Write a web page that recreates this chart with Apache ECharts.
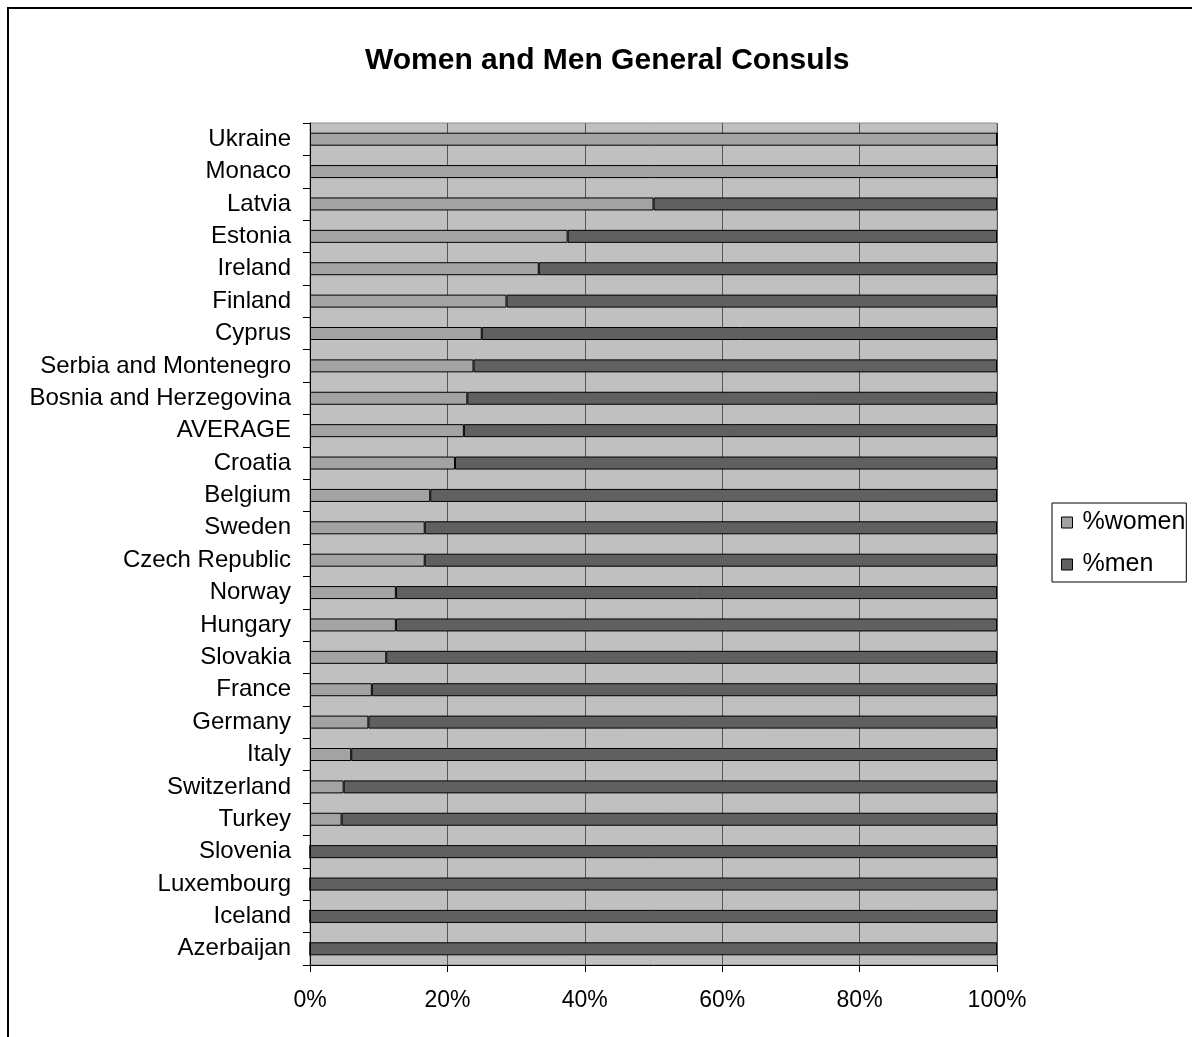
<!DOCTYPE html>
<html>
<head>
<meta charset="utf-8">
<script src="https://cdn.jsdelivr.net/npm/echarts@6/dist/echarts.min.js"></script>
<style>
  html, body { margin: 0; padding: 0; background: #fff; overflow: hidden; }
  #chart { position: absolute; left: 0; top: 0; width: 1192px; height: 1037px; }
  #frame { position: absolute; left: 7px; top: 7px; width: 1300px; height: 1200px;
           border: 2px solid #000; box-sizing: border-box; pointer-events: none; }
</style>
</head>
<body>
<div id="chart"></div>
<div id="frame"></div>
<script>
// Countries listed from top row to bottom row
const countries = [
  'Ukraine', 'Monaco', 'Latvia', 'Estonia', 'Ireland', 'Finland', 'Cyprus',
  'Serbia and Montenegro', 'Bosnia and Herzegovina', 'AVERAGE', 'Croatia',
  'Belgium', 'Sweden', 'Czech Republic', 'Norway', 'Hungary', 'Slovakia',
  'France', 'Germany', 'Italy', 'Switzerland', 'Turkey', 'Slovenia',
  'Luxembourg', 'Iceland', 'Azerbaijan'
];
// Share of women general consuls (%)
const women = [
  100, 100, 50, 37.5, 33.3, 28.6, 25,
  23.8, 22.9, 22.4, 21.1,
  17.5, 16.7, 16.7, 12.5, 12.5, 11.1,
  9.0, 8.5, 6.0, 4.9, 4.6, 0,
  0, 0, 0
];
// Share of men general consuls (%)
const men = [
  0, 0, 50, 62.5, 66.7, 71.4, 75,
  76.2, 77.1, 77.6, 78.9,
  82.5, 83.3, 83.3, 87.5, 87.5, 88.9,
  91.0, 91.5, 94.0, 95.1, 95.4, 100,
  100, 100, 100
];
const xTicks = [0, 20, 40, 60, 80, 100];

const FONT = '"Liberation Sans", Arial, sans-serif';
const chart = echarts.init(document.getElementById('chart'), null, { renderer: 'canvas' });

chart.setOption({
  backgroundColor: '#ffffff',
  animation: false,
  textStyle: { fontFamily: FONT, color: '#000' },
  title: {
    text: 'Women and Men General Consuls',
    left: 360,
    top: 41,
    textStyle: { fontFamily: FONT, fontSize: 30, fontWeight: 'bold', color: '#000' }
  },
  legend: {
    orient: 'vertical',
    left: 1052,
    top: 503,
    padding: [7, 1, 5, 9],
    itemGap: 17,
    itemWidth: 11,
    itemHeight: 11,
    icon: 'rect',
    borderColor: '#000',
    borderWidth: 1,
    backgroundColor: '#fff',
    itemStyle: { borderColor: '#000', borderWidth: 1 },
    textStyle: { fontFamily: FONT, fontSize: 25, color: '#000', padding: [0, 0, 0, 5] },
    data: ['%women', '%men']
  },
  grid: {
    left: 310,
    right: 195,
    top: 123,
    bottom: 72,
    show: true,
    backgroundColor: '#c0c0c0',
    borderColor: '#8c8c8c',
    borderWidth: 1,
    containLabel: false
  },
  xAxis: {
    type: 'value',
    min: xTicks[0],
    max: xTicks[xTicks.length - 1],
    interval: 20,
    axisLine: { show: true, lineStyle: { color: '#000', width: 1 } },
    axisTick: { show: true, length: 7, lineStyle: { color: '#000' } },
    axisLabel: {
      margin: 24,
      fontFamily: FONT,
      fontSize: 23,
      color: '#000',
      formatter: v => v + '%'
    },
    splitLine: { show: true, lineStyle: { color: '#555', width: 1 } }
  },
  yAxis: {
    type: 'category',
    inverse: true,
    data: countries,
    axisLine: { show: true, lineStyle: { color: '#000', width: 1 } },
    axisTick: { show: true, length: 7, lineStyle: { color: '#000' } },
    axisLabel: { margin: 19, fontFamily: FONT, fontSize: 24, color: '#000' },
    splitLine: { show: false }
  },
  series: [
    {
      name: '%women',
      type: 'bar',
      stack: 'share',
      barWidth: 13,
      data: women,
      itemStyle: { color: '#a3a3a3', borderColor: '#000', borderWidth: 1 }
    },
    {
      name: '%men',
      type: 'bar',
      stack: 'share',
      barWidth: 13,
      data: men,
      itemStyle: { color: '#606060', borderColor: '#000', borderWidth: 1 }
    }
  ]
});
</script>
</body>
</html>
